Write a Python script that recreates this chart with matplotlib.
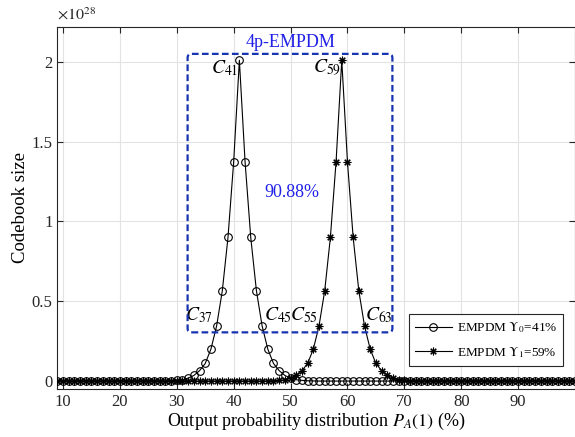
import numpy as np
import matplotlib
matplotlib.use('Agg')
import matplotlib.pyplot as plt
from matplotlib.patches import FancyBboxPatch

plt.rcParams['font.family'] = 'serif'
plt.rcParams['font.serif'] = ['Liberation Serif', 'DejaVu Serif']
plt.rcParams['mathtext.fontset'] = 'stix'

# data (codebook size in units of 1e28)
x_pos = list(range(9, 101))
peak_vals = [0.001, 0.002, 0.004, 0.008, 0.018, 0.035, 0.065, 0.11, 0.20, 0.345,
             0.565, 0.90, 1.375, 2.01, 1.375, 0.90, 0.565, 0.345, 0.20, 0.11,
             0.065, 0.035, 0.018, 0.008, 0.004, 0.002, 0.001]
y_ups0 = [0.0] * 19 + peak_vals + [0.0] * 46   # peak at 41
y_ups1 = [0.0] * 37 + peak_vals + [0.0] * 28   # peak at 59
labels = ['EMPDM $\\Upsilon_0$=41%', 'EMPDM $\\Upsilon_1$=59%']
x_ticks = [10, 20, 30, 40, 50, 60, 70, 80, 90]
y_ticks = [0, 0.5, 1, 1.5, 2]
y_ticklabels = ['0', '0.5', '1', '1.5', '2']

BLUE_BOX = '#1633b0'
BLUE_TXT = '#2020e8'

fig = plt.figure(figsize=(5.75, 4.37), dpi=100)
ax = fig.add_axes([0.0997, 0.1098, 0.9003, 0.829])

ax.plot(x_pos, y_ups0, color='black', lw=0.8, marker='o', ms=5.5,
        mfc='none', mec='black', mew=0.8, label=labels[0], zorder=3)
ax.plot(x_pos, y_ups1, color='black', lw=0.8, marker=(8, 2, 0), ms=5.5,
        mec='black', mew=0.8, label=labels[1], zorder=3)

ax.set_xlim(9, 100)
ax.set_ylim(-0.05, 2.22)
ax.set_xticks(x_ticks)
ax.set_yticks(y_ticks)
ax.set_yticklabels(y_ticklabels)
ax.tick_params(direction='in', top=True, right=True, labelsize=12, colors='#262626', length=4)
ax.grid(True, color='#e3e3e3', lw=0.8)
ax.set_axisbelow(True)
for s in ax.spines.values():
    s.set_color('#262626')
    s.set_linewidth(0.8)

ax.set_xlabel('Output probability distribution $P_A(1)$ (%)', fontsize=13, labelpad=1)
ax.set_ylabel('Codebook size', fontsize=13.5, labelpad=2)
ax.text(0.0, 1.008, '$\\times10^{28}$', transform=ax.transAxes, fontsize=11.5,
        ha='left', va='bottom', color='#262626')

# dashed rounded box
box = FancyBboxPatch((31.9, 0.305), 67.9 - 31.9, 2.05 - 0.305,
                     boxstyle='round,pad=0,rounding_size=0.7', mutation_aspect=0.036,
                     fill=False, ec=BLUE_BOX, lw=1.6, ls=(0, (3, 1.5)), zorder=4)
ax.add_patch(box)
ax.text(50.0, 2.065, '4p-EMPDM', color=BLUE_TXT, fontsize=13, ha='center', va='bottom')
ax.text(50.3, 1.18, '90.88%', color=BLUE_TXT, fontsize=13, ha='center', va='center')

cfs = 14
ax.text(40.8, 1.96, '$C_{41}$', fontsize=cfs, ha='right', va='center')
ax.text(58.8, 1.96, '$C_{59}$', fontsize=cfs, ha='right', va='center')
ax.text(36.4, 0.41, '$C_{37}$', fontsize=cfs, ha='right', va='center')
ax.text(45.3, 0.41, '$C_{45}$', fontsize=cfs, ha='left', va='center')
ax.text(54.8, 0.41, '$C_{55}$', fontsize=cfs, ha='right', va='center')
ax.text(63.1, 0.41, '$C_{63}$', fontsize=cfs, ha='left', va='center')

leg = ax.legend(loc='lower right', bbox_to_anchor=(0.977, 0.064), fontsize=9.5,
                frameon=True, fancybox=False, edgecolor='#262626', framealpha=1,
                handlelength=2.8, borderpad=0.45, labelspacing=0.75, handletextpad=0.4,
                borderaxespad=0)
leg.get_frame().set_linewidth(0.8)

fig.savefig('out.png', dpi=100)
